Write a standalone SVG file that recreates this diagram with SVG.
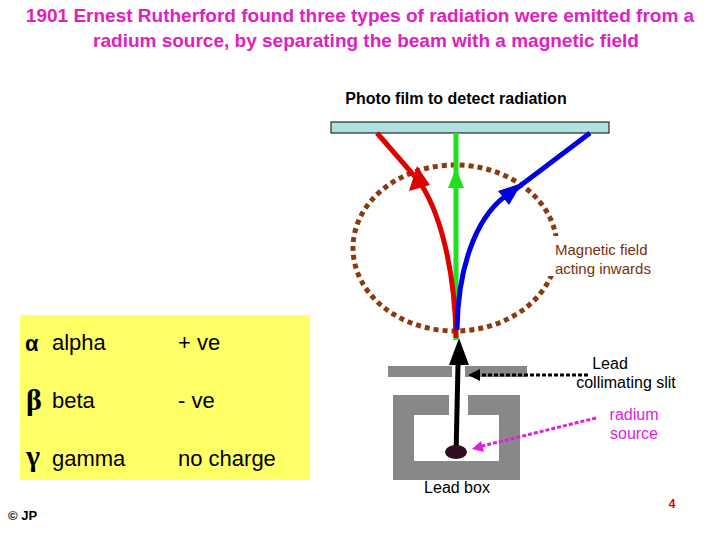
<svg xmlns="http://www.w3.org/2000/svg" width="720" height="540" viewBox="0 0 720 540">
<style>
text{font-family:"Liberation Sans",Arial,sans-serif}
.t{fill:#e020c0;font-weight:bold;font-size:19px}
.l{font-size:22px;fill:#000}
.g{font-family:"Liberation Serif",serif;font-size:30px;font-weight:bold}
.lead{fill:#888}
</style>
<rect width="720" height="540" fill="#fff"/>
<text class="t" x="360" y="22" text-anchor="middle">1901 Ernest Rutherford found three types of radiation were emitted from a</text>
<text class="t" x="366" y="47" text-anchor="middle">radium source, by separating the beam with a magnetic field</text>
<text x="456" y="104" text-anchor="middle" font-size="16" font-weight="bold">Photo film to detect radiation</text>
<g id="film"><rect x="331" y="122" width="278" height="11" fill="#b0e0e0" stroke="#000" stroke-width="1"/></g>
<g id="legend">
<rect x="20" y="315" width="290" height="165" fill="#ffff66"/>
<text x="25" y="351" class="l" font-size="28" font-weight="bold">α</text><text x="52" y="350" class="l">alpha</text><text x="178" y="350" class="l">+ ve</text>
<text x="26" y="410" class="g">β</text><text x="52" y="408" class="l">beta</text><text x="178" y="408" class="l">- ve</text>
<text x="26" y="466" class="g">γ</text><text x="52" y="466" class="l">gamma</text><text x="178" y="466" class="l">no charge</text>
</g>
<g id="field"><ellipse cx="455" cy="248" rx="102" ry="83" fill="none" stroke="#8b3a10" stroke-width="5" stroke-dasharray="5 4"/>
<rect x="548" y="236" width="12" height="40" fill="#fff"/>
<text x="555" y="255" font-size="15" fill="#7a3008">Magnetic field</text>
<text x="555" y="274" font-size="15" fill="#7a3008">acting inwards</text></g>
<g id="lead">
<rect class="lead" x="388" y="366" width="64" height="11"/>
<rect class="lead" x="465" y="366" width="62" height="11"/>
<path class="lead" d="M393,395H449V415H414V461H499V415H468V395H520V480H393z"/>
</g>
<g id="connectors" fill="none" stroke-width="5">
<path d="M456,455 L458,365" stroke="#000" stroke-width="5"/>
<path d="M459,338 L449,365 L469,365z" fill="#000" stroke="none"/>
<path d="M456,340 L456,133" stroke="#20e020"/>
<path d="M456,168 L448,188 L464,188z" fill="#20e020" stroke="none"/>
<path d="M456,338 C455,270 440,210 418,180 L377,133" stroke="#e00000"/>
<path d="M417,166 L409,191 L430,185z" fill="#e00000" stroke="none"/>
<path d="M457,330 C458,260 480,210 512,192 L590,133" stroke="#0000e0"/>
<path d="M522,183 L498,191 L509,205z" fill="#0000e0" stroke="none"/>
<path d="M588,375 L478,375" stroke="#000" stroke-width="3" stroke-dasharray="4 2"/>
<path d="M468,375 L480,369 L480,381z" fill="#000" stroke="none"/>
<path d="M596,418 L478,447" stroke="#e020e0" stroke-width="3" stroke-dasharray="4 2"/>
<path d="M472,449 L481,441 L484,452z" fill="#e020e0" stroke="none"/>
</g>
<ellipse cx="456" cy="452" rx="11" ry="7" fill="#301020"/>
<text x="610" y="369" font-size="16" text-anchor="middle">Lead</text>
<text x="626" y="388" font-size="16" text-anchor="middle">collimating slit</text>
<text x="634" y="420" font-size="16" text-anchor="middle" fill="#e020e0">radium</text>
<text x="634" y="439" font-size="16" text-anchor="middle" fill="#e020e0">source</text>
<text x="457" y="493" font-size="16" text-anchor="middle">Lead box</text>
<text x="8" y="520" font-size="13" font-weight="bold" fill="#000">© JP</text>
<text x="672" y="508" font-size="12" font-weight="bold" fill="#e00000" text-anchor="middle">4</text>
</svg>
